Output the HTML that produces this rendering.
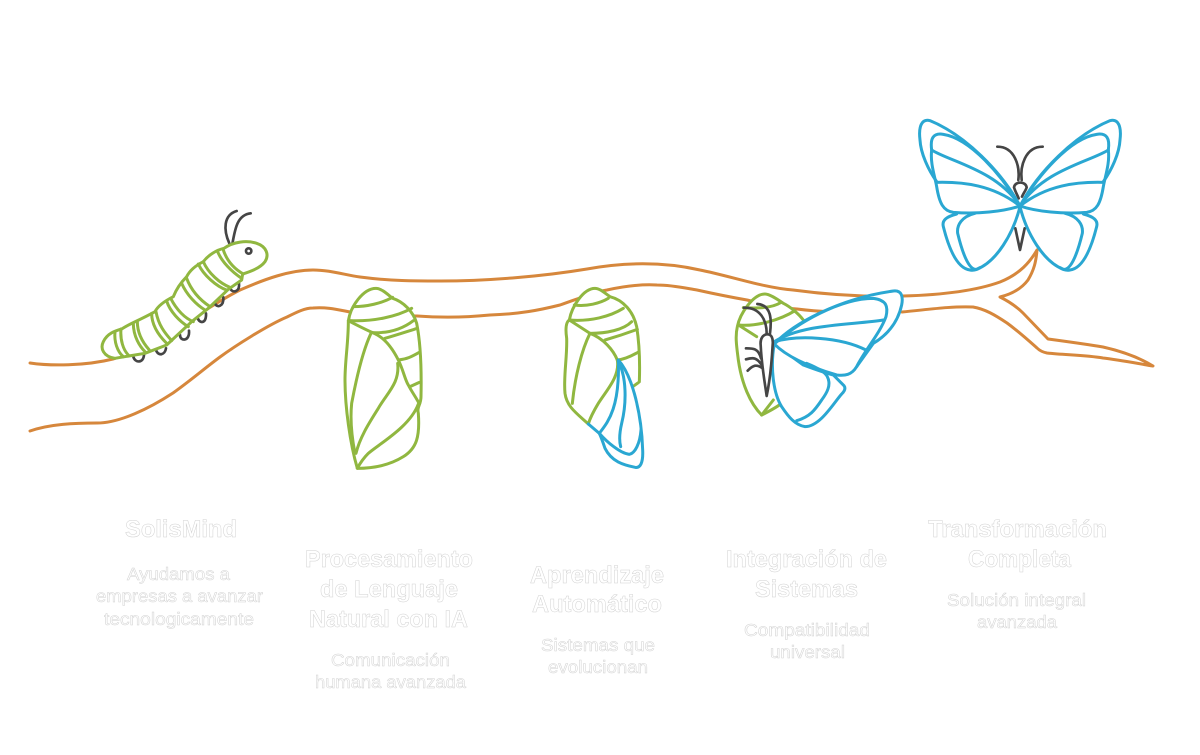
<!DOCTYPE html>
<html lang="es">
<head>
<meta charset="utf-8">
<title>SolisMind</title>
<style>
html,body{margin:0;padding:0;background:#fff;width:1200px;height:755px;overflow:hidden}
svg{display:block}
.g,.o,.b,.d{fill:none;stroke-linecap:round;stroke-linejoin:round}
.g{stroke:#90b740;stroke-width:9}
.o{stroke:#d6873c;stroke-width:3}
.b{stroke:#2aa7d2;stroke-width:9}
.d{stroke:#454545;stroke-width:8}
text{font-family:"Liberation Sans",sans-serif;fill:#fff;stroke:#d2d2d2;stroke-width:.5}
.t{font-size:24px;font-weight:700}
.s{font-size:17.5px;font-weight:400}
</style>
</head>
<body>
<svg width="1200" height="755" viewBox="0 0 1200 755" xmlns="http://www.w3.org/2000/svg">
<rect width="1200" height="755" fill="#fff"/>

<!-- branch -->
<path class="o" d="M30,363 C50,366 85,366 113,359 C160,345 200,310 240,290 C265,279 290,270 313,270 C330,270 345,275 360,277 C390,281 415,281 440,281 C490,281 545,276 587,269 C620,263 660,261 700,270 C730,276 765,288 793,290 C830,295 870,297 903,296 C940,295 975,291 1000,282 C1020,274 1030,262 1037,250 C1036,262 1034,270 1028,280 C1022,288 1012,294 1000,297 C1012,303 1018,308 1023,313 L1048,339 C1070,342 1085,344 1103,347 C1125,352 1140,358 1153,366 C1135,363 1120,360 1103,358 C1085,355 1065,355 1047,353 C1042,352 1039,350 1037,348 C1028,340 1018,331 1007,323 C995,315 985,309 973,307 C950,306 925,310 902,312"/>
<path class="o" d="M30,431 C50,424 75,423 97,423 C120,423 150,408 173,393 C190,381 205,368 220,357 C235,346 268,325 287,317 C297,312 305,308 313,308 C325,307 335,309 345,311 C365,315 395,316 417,316 C445,318 470,317 490,315 C520,314 540,310 560,305 C580,298 595,292 607,290 C625,286 640,284 657,285 C672,285 685,288 697,290 C715,294 730,297 747,300 C765,304 780,308 797,309 C820,312 850,313 880,313"/>

<!-- caterpillar -->
<g transform="translate(20,200) scale(.33333)">
<g class="d">
<path d="M340,470 C345,490 370,490 372,465"/>
<path d="M408,450 C415,470 435,465 438,445"/>
<path d="M480,405 C480,425 510,425 507,392"/>
<path d="M533,352 C535,370 560,375 558,340"/>
<path d="M585,310 C590,325 612,320 610,292"/>
<path d="M632,268 C640,280 660,275 657,250"/>
<path d="M628,130 C610,90 610,45 650,33"/>
<path d="M637,132 C645,90 650,45 692,40"/>
</g>
<path class="g" style="fill:#fff" d="M285,475 C250,470 240,445 250,425 C262,400 285,393 305,387 C330,370 350,365 405,335 C415,315 440,300 460,290 C470,265 485,245 500,230 C510,210 530,195 550,185 C565,165 590,150 612,145 C640,125 680,120 710,130 C740,140 748,165 735,185 C720,205 690,215 668,222 L665,240 L625,268 L565,325 L515,365 L440,435 L375,460 Z"/>
<g class="g">
<path d="M285,395 C282,425 292,455 310,470"/>
<path d="M303,387 C300,420 310,450 325,465"/>
<path d="M340,370 C340,410 360,440 375,455"/>
<path d="M352,365 C352,400 370,430 388,450"/>
<path d="M395,340 C395,380 420,410 440,430"/>
<path d="M408,335 C415,375 435,400 455,422"/>
<path d="M440,303 C450,335 480,365 505,380"/>
<path d="M452,295 C470,330 495,355 520,365"/>
<path d="M485,250 C500,285 530,315 555,330"/>
<path d="M500,235 C515,275 540,300 570,320"/>
<path d="M535,192 C550,225 590,260 620,270"/>
<path d="M550,185 C565,220 600,250 630,262"/>
<path d="M593,155 C605,185 635,215 665,235"/>
<path d="M610,150 C620,180 640,205 670,222"/>
</g>
<circle class="d" cx="686" cy="153" r="8"/>
</g>

<!-- chrysalis 1 -->
<g transform="translate(20,200) scale(.33333)">
<path class="g" style="fill:#fff" d="M1012,805 C990,730 975,620 975,540 C975,480 985,430 985,365 C990,320 1030,265 1068,265 C1085,265 1105,285 1118,295 C1150,305 1180,335 1190,370 C1200,420 1205,500 1203,590 C1203,615 1190,620 1195,640 C1200,710 1190,745 1150,770 C1110,795 1060,805 1012,805 Z"/>
<g class="g">
<path d="M1000,320 C1040,320 1085,310 1118,292"/>
<path d="M990,362 C1060,365 1130,350 1175,325"/>
<path d="M985,362 C1010,375 1040,390 1058,398 C1090,410 1115,440 1135,480 C1150,510 1155,540 1165,555 C1175,575 1190,595 1198,612"/>
<path d="M1058,398 C1110,400 1150,385 1180,362"/>
<path d="M1095,415 C1130,405 1160,395 1192,385"/>
<path d="M1135,480 C1160,478 1175,470 1198,457"/>
<path d="M1170,560 L1198,547"/>
<path d="M1052,402 C1030,450 1010,530 995,610 C990,660 995,710 1005,760"/>
<path d="M1133,490 C1140,550 1100,580 1075,625 C1050,665 1020,710 1008,760"/>
<path d="M1195,612 C1170,680 1080,730 1045,760 C1030,775 1020,790 1012,805"/>
</g>
</g>

<!-- chrysalis 2 + emerging, chrysalis 3 + butterfly -->
<g transform="translate(540,270) scale(.33333)">
<path style="fill:#fff" d="M145,462 C110,430 80,410 75,370 C70,320 82,260 80,205 C75,170 80,155 88,150 C95,110 130,55 165,55 C180,55 195,70 210,80 C250,90 280,125 290,170 C298,220 300,280 298,330 L280,420 L170,480 Z"/>
<g class="g">
<path d="M145,462 C110,430 80,410 75,370 C70,320 82,260 80,205 C75,170 80,155 88,150 C95,110 130,55 165,55 C180,55 195,70 210,80 C250,90 280,125 290,170 C298,220 300,280 298,335"/>
<path d="M103,105 C140,110 180,100 205,85"/>
<path d="M88,150 C150,155 210,140 250,115"/>
<path d="M88,150 L150,190 C190,205 220,240 232,270"/>
<path d="M150,190 C200,190 250,180 275,155"/>
<path d="M195,210 C230,200 260,190 292,178"/>
<path d="M232,270 C255,268 275,258 297,245"/>
<path d="M278,350 L295,338"/>
<path d="M150,190 C125,240 105,320 97,400"/>
<path d="M232,270 C240,320 200,360 175,400 C160,425 150,445 145,462"/>
</g>
<g class="b">
<path d="M145,462 L178,490 C200,460 240,420 235,270"/>
<path d="M235,275 C260,320 260,400 245,460 C238,490 238,515 242,530"/>
<path d="M235,270 C280,320 305,440 308,540 C310,580 300,595 285,592 C250,585 215,575 195,535 C190,520 185,505 178,490"/>
<path d="M178,490 C200,515 240,550 268,553 C285,550 300,520 303,480"/>
</g>

<path style="fill:#fff" d="M665,435 C630,400 605,340 595,270 C590,230 585,200 592,170 C600,130 640,72 675,72 C690,72 715,90 730,100 C750,110 775,130 790,150 L720,402 Z"/>
<g class="g">
<path d="M665,435 C630,400 605,340 595,270 C590,230 585,200 592,170 C600,130 640,72 675,72 C690,72 715,90 730,100 C750,110 775,130 790,150"/>
<path d="M610,113 C650,115 695,115 722,98"/>
<path d="M597,165 C650,170 720,150 765,122"/>
<path d="M600,168 L650,200"/>
<path d="M665,435 L700,390"/>
<path d="M665,435 C685,425 705,415 722,402"/>
</g>
<path class="b" style="fill:#fff" d="M703,222 C760,160 900,85 1060,63 C1085,60 1090,80 1085,105 C1075,150 1050,190 1000,220 L950,290 L800,280 Z"/>
<path class="b" style="fill:#fff" d="M790,285 C830,300 860,310 880,315 C895,330 905,340 912,347 C918,355 912,365 905,372 C880,400 840,470 795,470 C765,465 745,440 725,410 C700,370 690,290 703,222 Z"/>
<path class="b" style="fill:#fff" d="M703,222 C770,160 900,85 1000,85 C1040,90 1045,110 1038,140 C1020,190 975,240 950,290 C935,315 915,318 890,315 C840,300 750,270 703,222 Z"/>
<g class="b">
<path d="M703,215 C790,160 940,165 1030,150"/>
<path d="M705,215 C770,195 900,200 978,240"/>
<path d="M800,280 C830,292 855,305 862,320 C875,345 860,370 845,390 C825,420 810,440 770,452"/>
</g>
<path class="d" style="fill:#fff" d="M680,378 C675,340 665,290 662,225 C660,205 670,193 682,193 C695,193 700,205 698,225 C695,280 690,330 680,378 Z"/>
<g class="d">
<path d="M680,190 C680,150 660,112 612,113"/>
<path d="M690,190 C695,150 695,105 652,102"/>
<path d="M663,265 C655,235 640,235 618,235"/>
<path d="M665,285 C650,262 640,262 618,268"/>
<path d="M668,295 C650,282 640,285 623,302"/>
</g>
</g>

<!-- large butterfly -->
<g transform="translate(890,100) scale(.33333)">
<path class="d" d="M376,385 L390,450 L404,385"/>
<path class="d" d="M386,295 C382,285 376,275 372,262 C375,243 407,243 410,262 C407,272 400,280 396,290"/>
<path class="d" d="M385,240 C390,200 375,140 322,140"/>
<path class="d" d="M395,240 C390,200 405,140 458,140"/>
<g>
<path class="b" d="M390,318 C335,215 225,105 120,62 C95,55 85,80 90,120 C92,160 115,210 140,245"/>
<path class="b" d="M390,318 C335,225 240,115 160,103 C130,98 120,115 125,150 C120,190 135,230 140,260 C148,310 160,333 190,337 C260,343 340,335 390,318 Z"/>
<path class="b" d="M125,150 C180,185 320,210 390,318"/>
<path class="b" d="M140,247 C220,245 310,255 390,318"/>
<path class="b" d="M390,320 C370,400 320,485 260,508 C235,512 215,450 203,400 C200,375 215,350 255,340"/>
<path class="b" d="M200,342 C170,350 155,360 160,380 C175,440 200,505 240,510 C250,512 260,510 270,503"/>
</g>
<g transform="translate(780,0) scale(-1,1)">
<path class="b" d="M390,318 C335,215 225,105 120,62 C95,55 85,80 90,120 C92,160 115,210 140,245"/>
<path class="b" d="M390,318 C335,225 240,115 160,103 C130,98 120,115 125,150 C120,190 135,230 140,260 C148,310 160,333 190,337 C260,343 340,335 390,318 Z"/>
<path class="b" d="M125,150 C180,185 320,210 390,318"/>
<path class="b" d="M140,247 C220,245 310,255 390,318"/>
<path class="b" d="M390,320 C370,400 320,485 260,508 C235,512 215,450 203,400 C200,375 215,350 255,340"/>
<path class="b" d="M200,342 C170,350 155,360 160,380 C175,440 200,505 240,510 C250,512 260,510 270,503"/>
</g>
</g>

<!-- labels -->
<text class="t" x="125" y="537" textLength="112" lengthAdjust="spacingAndGlyphs">SolisMind</text>
<text class="s" x="127" y="580" textLength="103" lengthAdjust="spacingAndGlyphs">Ayudamos a</text>
<text class="s" x="96" y="602" textLength="167" lengthAdjust="spacingAndGlyphs">empresas a avanzar</text>
<text class="s" x="104" y="625" textLength="150" lengthAdjust="spacingAndGlyphs">tecnologicamente</text>

<text class="t" x="305" y="567" textLength="168" lengthAdjust="spacingAndGlyphs">Procesamiento</text>
<text class="t" x="320" y="597" textLength="138" lengthAdjust="spacingAndGlyphs">de Lenguaje</text>
<text class="t" x="309" y="627" textLength="159" lengthAdjust="spacingAndGlyphs">Natural con IA</text>
<text class="s" x="331" y="666" textLength="119" lengthAdjust="spacingAndGlyphs">Comunicación</text>
<text class="s" x="315" y="688" textLength="151" lengthAdjust="spacingAndGlyphs">humana avanzada</text>

<text class="t" x="530" y="583" textLength="134" lengthAdjust="spacingAndGlyphs">Aprendizaje</text>
<text class="t" x="532" y="612" textLength="130" lengthAdjust="spacingAndGlyphs">Automático</text>
<text class="s" x="541" y="651" textLength="114" lengthAdjust="spacingAndGlyphs">Sistemas que</text>
<text class="s" x="548" y="673" textLength="100" lengthAdjust="spacingAndGlyphs">evolucionan</text>

<text class="t" x="726" y="567" textLength="161" lengthAdjust="spacingAndGlyphs">Integración de</text>
<text class="t" x="755" y="597" textLength="103" lengthAdjust="spacingAndGlyphs">Sistemas</text>
<text class="s" x="744" y="636" textLength="126" lengthAdjust="spacingAndGlyphs">Compatibilidad</text>
<text class="s" x="770" y="658" textLength="75" lengthAdjust="spacingAndGlyphs">universal</text>

<text class="t" x="928" y="537" textLength="179" lengthAdjust="spacingAndGlyphs">Transformación</text>
<text class="t" x="968" y="567" textLength="103" lengthAdjust="spacingAndGlyphs">Completa</text>
<text class="s" x="947" y="606" textLength="139" lengthAdjust="spacingAndGlyphs">Solución integral</text>
<text class="s" x="977" y="628" textLength="80" lengthAdjust="spacingAndGlyphs">avanzada</text>
</svg>
</body>
</html>
